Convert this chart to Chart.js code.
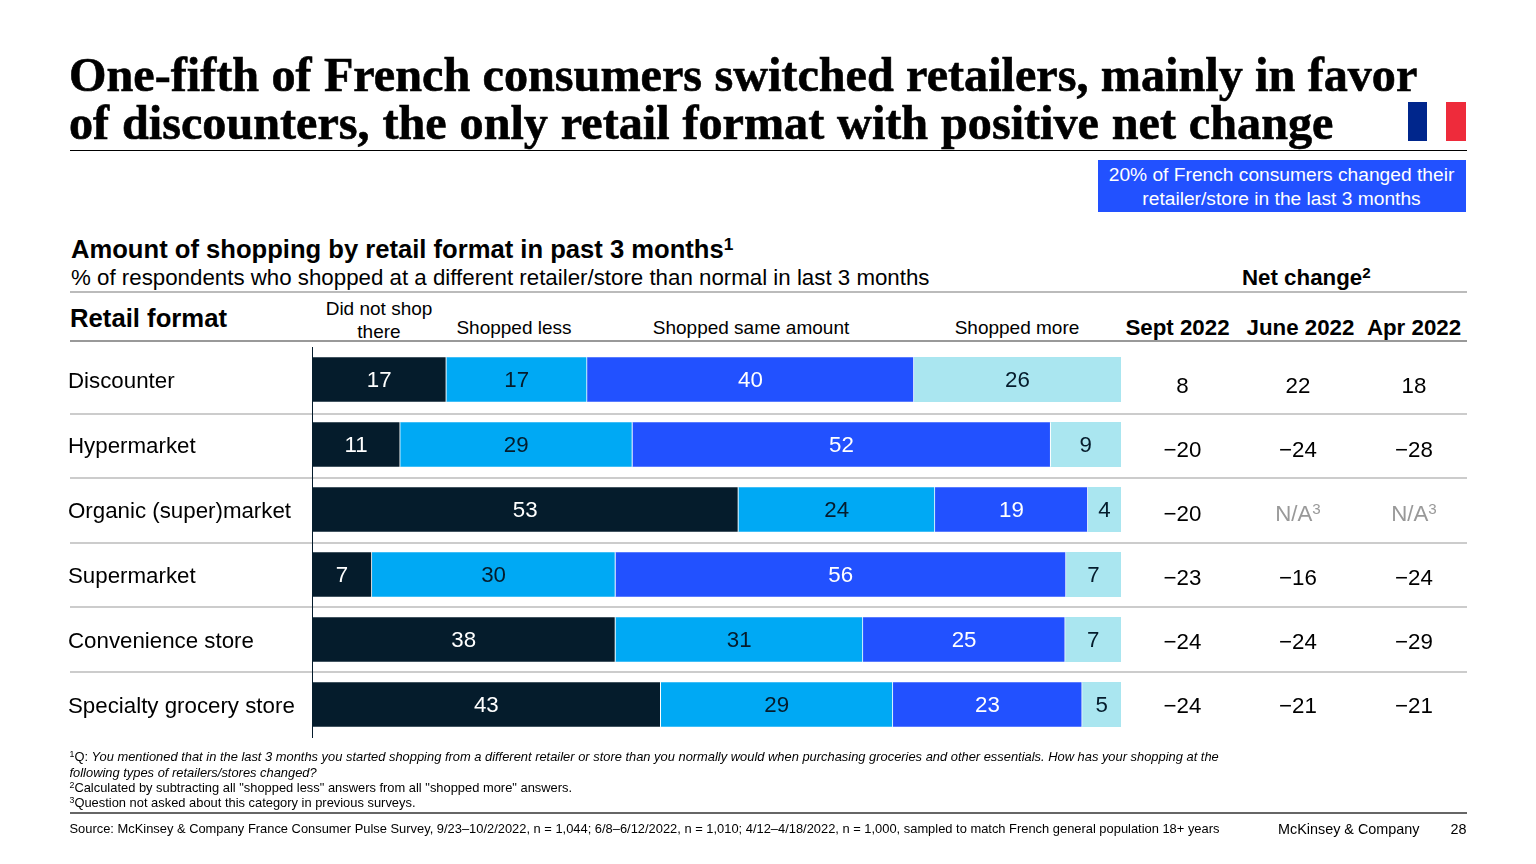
<!DOCTYPE html>
<html lang="en">
<head>
<meta charset="utf-8">
<title>French consumers switching retailers</title>
<script src="https://cdn.jsdelivr.net/npm/chart.js@4/dist/chart.umd.min.js"></script>
<style>
  html, body { margin: 0; padding: 0; background: #fff; }
  body { width: 1536px; height: 864px; position: relative; overflow: hidden; font-family: "Liberation Sans", Arial, sans-serif; color: #000; }
  canvas { position: absolute; left: 0; top: 0; }
  .t { position: absolute; white-space: nowrap; line-height: 1; }
  .c { transform: translateX(-50%); text-align: center; }
  .title { font-family: "Liberation Serif", serif; font-weight: bold; font-size: 48.2px; left: 69px; -webkit-text-stroke: 0.6px #000; }
  .rule { position: absolute; left: 70px; width: 1397px; }
  .row-rule { height: 2px; background: #ccc; }
  sup { font-size: 68%; line-height: 0; vertical-align: baseline; position: relative; top: -0.45em; }
  .hdr { font-size: 19px; }
  .date { font-size: 22.3px; font-weight: bold; }
  .net { font-size: 22.3px; }
  .na { color: #999; }
  .note { font-size: 12.9px; left: 69.5px; }
</style>
</head>
<body>
<div class="t title" id="title1" style="top:51px;word-spacing:0.3px">One-fifth of French consumers switched retailers, mainly in favor</div>
<div class="t title" id="title2" style="top:99px;word-spacing:0.8px">of discounters, the only retail format with positive net change</div>
<div class="rule" style="top:150px;height:1px;background:#000"></div>

<div style="position:absolute;left:1408px;top:102px;width:19px;height:39px;background:#00268c"></div>
<div style="position:absolute;left:1446px;top:102px;width:20px;height:39px;background:#ee2b3b"></div>

<div style="position:absolute;left:1098px;top:160px;width:368px;height:52px;background:#2251ff"></div>
<div class="t c" style="left:1281.5px;top:165px;font-size:19.2px;color:#fff">20% of French consumers changed their</div>
<div class="t c" style="left:1281.5px;top:189px;font-size:19.2px;color:#fff">retailer/store in the last 3 months</div>

<div class="t" style="left:71px;top:237px;font-size:25.6px;font-weight:bold">Amount of shopping by retail format in past 3 months<sup>1</sup></div>
<div class="t" style="left:71px;top:267px;font-size:22.3px">% of respondents who shopped at a different retailer/store than normal in last 3 months</div>
<div class="t" style="left:1242px;top:267px;font-size:22.3px;font-weight:bold">Net change<sup>2</sup></div>
<div class="rule" style="top:291px;height:2px;background:#bbb"></div>

<div class="t" style="left:70px;top:306px;font-size:25.7px;font-weight:bold">Retail format</div>
<div class="t c hdr" style="left:379px;top:299px">Did not shop</div>
<div class="t c hdr" style="left:379px;top:322px">there</div>
<div class="t c hdr" style="left:514px;top:318px">Shopped less</div>
<div class="t c hdr" style="left:751px;top:318px">Shopped same amount</div>
<div class="t c hdr" style="left:1017px;top:318px">Shopped more</div>
<div class="t c date" style="left:1177.5px;top:317px">Sept 2022</div>
<div class="t c date" style="left:1300.5px;top:317px">June 2022</div>
<div class="t c date" style="left:1414px;top:317px">Apr 2022</div>
<div class="rule" style="top:340px;height:2px;background:#999"></div>

<div class="rule row-rule" style="top:413px"></div>
<div class="rule row-rule" style="top:477px"></div>
<div class="rule row-rule" style="top:542px"></div>
<div class="rule row-rule" style="top:606px"></div>
<div class="rule row-rule" style="top:671px"></div>

<canvas id="chart" width="1536" height="864"></canvas>
<div id="net"></div>

<div class="t note" style="top:751px"><sup>1</sup>Q: <i>You mentioned that in the last 3 months you started shopping from a different retailer or store than you normally would when purchasing groceries and other essentials. How has your shopping at the</i></div>
<div class="t note" style="top:767px"><i>following types of retailers/stores changed?</i></div>
<div class="t note" style="top:782px"><sup>2</sup>Calculated by subtracting all "shopped less" answers from all "shopped more" answers.</div>
<div class="t note" style="top:797px"><sup>3</sup>Question not asked about this category in previous surveys.</div>
<div class="rule" style="top:812px;height:2px;background:#666"></div>
<div class="t note" style="top:823px">Source: McKinsey &amp; Company France Consumer Pulse Survey, 9/23–10/2/2022, n = 1,044; 6/8–6/12/2022, n = 1,010; 4/12–4/18/2022, n = 1,000, sampled to match French general population 18+ years</div>
<div class="t" style="left:1278px;top:822px;font-size:14.4px">McKinsey &amp; Company</div>
<div class="t" style="left:1450.5px;top:822px;font-size:14.4px">28</div>

<script>
const formats = ["Discounter", "Hypermarket", "Organic (super)market", "Supermarket", "Convenience store", "Specialty grocery store"]

// bar lengths, printed labels are the rounded figures
const didNotShop = [16.6, 10.9, 52.7, 7.4, 37.5, 43.1]
const shoppedLess = [17.4, 28.7, 24.3, 30.1, 30.6, 28.7]
const shoppedSame = [40.4, 51.7, 18.9, 55.7, 25.0, 23.4]
const shoppedMore = [25.6, 8.7, 4.1, 6.8, 6.9, 4.8]

const didNotShopLabels = [17, 11, 53, 7, 38, 43]
const shoppedLessLabels = [17, 29, 24, 30, 31, 29]
const shoppedSameLabels = [40, 52, 19, 56, 25, 23]
const shoppedMoreLabels = [26, 9, 4, 7, 7, 5]

const netSept = [8, -20, -20, -23, -24, -24]
const netJune = [22, -24, null, -16, -24, -21]
const netApr = [18, -28, null, -24, -29, -21]

// Inline plugin to print the value in the middle of each segment
const segmentLabelsPlugin = {
  id: "segmentLabels",
  afterDatasetsDraw(chart) {
    const { ctx } = chart
    ctx.save()
    ctx.font = "22.3px 'Liberation Sans', Arial, sans-serif"
    ctx.textAlign = "center"
    ctx.textBaseline = "middle"
    chart.data.datasets.forEach((dataset, dsIndex) => {
      chart.getDatasetMeta(dsIndex).data.forEach((bar, index) => {
        ctx.fillStyle = dataset.labelColor
        ctx.fillText(dataset.printed[index], (bar.base + bar.x) / 2, bar.y + 1.5)
      })
    })
    ctx.restore()
  }
}

function makeDataset(label, data, printed, color, labelColor, rightBorder) {
  return {
    label, data, printed, labelColor,
    backgroundColor: color,
    borderColor: "#fff",
    borderWidth: { right: rightBorder },
    borderSkipped: false,
    barThickness: 44.5
  }
}

new Chart(document.getElementById("chart"), {
  type: "bar",
  data: {
    labels: formats,
    datasets: [
      makeDataset("Did not shop there", didNotShop, didNotShopLabels, "#051c2c", "#fff", 1),
      makeDataset("Shopped less", shoppedLess, shoppedLessLabels, "#00a9f4", "#051c2c", 1),
      makeDataset("Shopped same amount", shoppedSame, shoppedSameLabels, "#2251ff", "#fff", 1),
      makeDataset("Shopped more", shoppedMore, shoppedMoreLabels, "#aae6f0", "#051c2c", 0)
    ]
  },
  plugins: [segmentLabelsPlugin],
  options: {
    indexAxis: "y",
    responsive: false,
    animation: false,
    layout: { padding: { left: 68, right: 415, top: 347, bottom: 127 } },
    plugins: { legend: { display: false }, tooltip: { enabled: false } },
    scales: {
      x: { stacked: true, display: false, min: 0, max: 100 },
      y: {
        stacked: true,
        afterFit: (scale) => { scale.width = 244 },
        grid: { display: false, drawTicks: false },
        border: { display: true, color: "#051c2c", width: 1 },
        ticks: {
          crossAlign: "far",
          padding: 0,
          labelOffset: 2,
          color: "#000",
          font: { size: 22.3, family: "'Liberation Sans', Arial, sans-serif" }
        }
      }
    }
  }
})

// net change columns beside the bars
const netHolder = document.getElementById("net")
const netTops = [375, 439, 503, 567, 631, 695]
const netColumns = [[netSept, 1182.5], [netJune, 1298], [netApr, 1414]]
netColumns.forEach(([values, left]) => {
  values.forEach((v, i) => {
    const el = document.createElement("div")
    el.className = "t c net" + (v === null ? " na" : "")
    el.style.left = left + "px"
    el.style.top = netTops[i] + "px"
    el.innerHTML = v === null ? "N/A<sup>3</sup>" : String(v).replace("-", "−")
    netHolder.appendChild(el)
  })
})
</script>
</body>
</html>
